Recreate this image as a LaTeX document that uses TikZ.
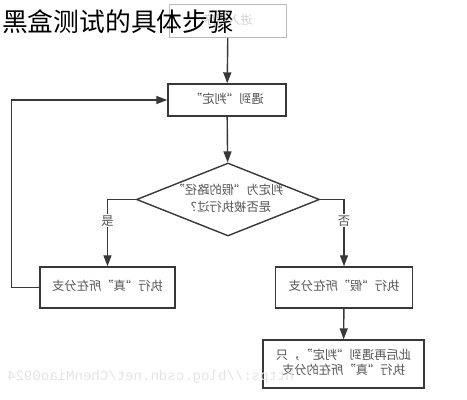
\documentclass[tikz,border=0pt]{standalone}
\usepackage{fontspec}
\usepackage{graphicx}
\setmainfont{Noto Sans CJK SC}
\newfontfamily\wmfont{Liberation Mono}
\usepackage{tikz}
\usetikzlibrary{arrows.meta,positioning,shapes.geometric}

\definecolor{lineclr}{HTML}{383838}
\definecolor{txtclr}{HTML}{555555}
% mirrored text, as printed in the picture
\newcommand{\flip}[1]{\reflectbox{\begin{tabular}{@{}c@{}}#1\end{tabular}}}

\begin{document}
\begin{tikzpicture}[
    x=0.03cm, y=-0.03cm,
    box/.style={draw=lineclr, line width=1.2pt, fill=white, text=txtclr, inner sep=0pt, font=\fontsize{10.5}{13}\selectfont},
    startbox/.style={draw=gray!55, line width=1.2pt, fill=white, text=gray!35, inner sep=0pt, font=\fontsize{10.5}{13}\selectfont},
    decision/.style={diamond, draw=lineclr, line width=1.2pt, fill=white, inner sep=0pt, minimum width=5.49cm, minimum height=2.19cm},
    arr/.style={-{Triangle[length=3.3mm,width=2.4mm]}, draw=lineclr, line width=1.2pt},
    tag/.style={fill=white, text=txtclr, inner sep=1pt, font=\fontsize{10.5}{13}\selectfont}
  ]
    \useasboundingbox (0,0) rectangle (467,400);

    \node[startbox, minimum width=3.51cm, minimum height=0.99cm] (start) at (228,21) {\flip{进入程序}};
    \node[anchor=west, font=\fontsize{22}{26}\selectfont] (title) at (-2,22) {黑盒测试的具体步骤};

    \node[box, minimum width=3.54cm, minimum height=0.96cm] (meet) at (227,100) {\flip{遇到“判定”}};
    \node[decision, label={[text=txtclr, font=\fontsize{10.5}{14.5}\selectfont]center:\flip{判定为“假的路径”\\是否被执行过？}}] (check) at (228,199.5) {};
    \node[box, minimum width=4.05cm, minimum height=1.23cm] (yes) at (107.5,287.5) {\flip{执行“真”所在分支}};
    \node[box, minimum width=4.11cm, minimum height=1.23cm] (no) at (344,287.5) {\flip{执行“假”所在分支}};
    \node[box, minimum width=4.83cm, minimum height=1.44cm] (after) at (343.5,364) {\flip{此后再遇到“判定”，只\\执行“真”所在的分支}};

    \draw[arr] (start) -- (meet);
    \draw[arr] (meet) -- (check);
    \draw[arr] (check.west) -| node[tag, pos=0.66] {是} (yes.north);
    \draw[arr] (check.east) -| node[tag, pos=0.66] {否} (no.north);
    \draw[arr] (yes.west) -- ++(-28,0) |- (meet.west);
    \draw[arr] (no) -- (after);

    \node[anchor=west, text=gray!22, font=\wmfont\fontsize{12}{14}\selectfont] (mark) at (3,377) {\reflectbox{https://blog.csdn.net/ChenMiao0924}};
\end{tikzpicture}
\end{document}
